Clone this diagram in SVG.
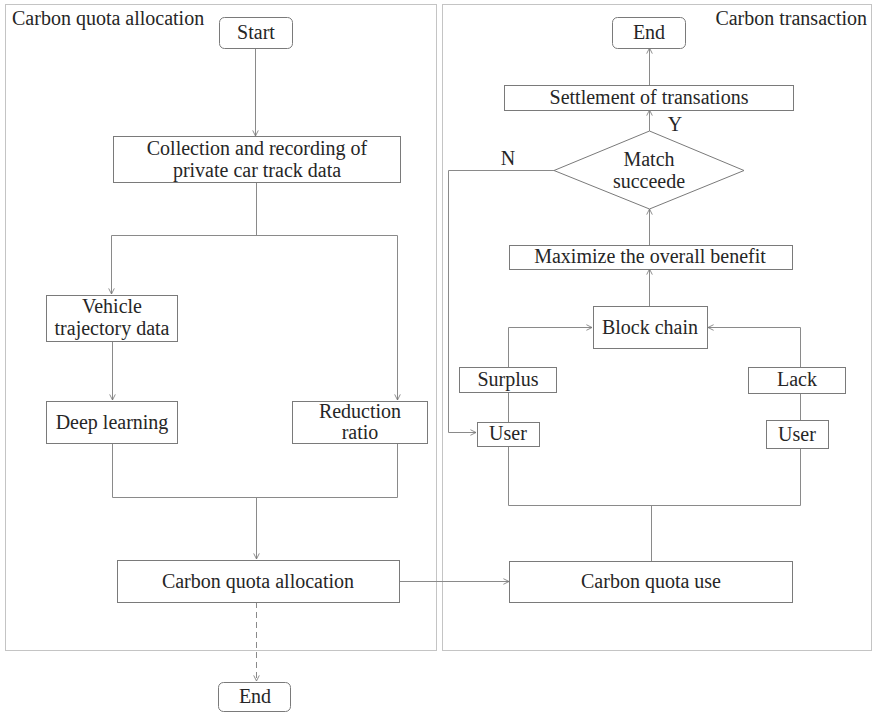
<svg xmlns="http://www.w3.org/2000/svg" width="872" height="713" viewBox="0 0 872 713">
<style>
text{font-family:'Liberation Serif','DejaVu Serif',serif;font-size:20px;fill:#262626;text-anchor:middle}
.title{text-anchor:start}
.box{fill:#fff;stroke:#7a7a7a;stroke-width:1}
.panel{fill:none;stroke:#c4c4c4;stroke-width:1}
.ln{fill:none;stroke:#8a8a8a;stroke-width:1}
</style>
<defs>
<marker id="ar" viewBox="0 0 10 10" refX="9" refY="5" markerWidth="7" markerHeight="7" orient="auto" markerUnits="userSpaceOnUse">
<path d="M1,1 L9,5 L1,9" fill="none" stroke="#7a7a7a" stroke-width="1.2"/>
</marker>
</defs>
<g id="panels" font-family="'Liberation Serif', serif">
<rect class="panel" x="5.5" y="4.5" width="431" height="646"/>
<rect class="panel" x="442.5" y="4.5" width="429" height="646"/>
<text class="title" x="12" y="25">Carbon quota allocation</text>
<text x="867" y="25" style="text-anchor:end">Carbon transaction</text>
</g>
<g id="connectors">
<line class="ln" x1="255.5" y1="48" x2="255.5" y2="136" marker-end="url(#ar)"/>
<polyline class="ln" points="256.5,182 256.5,235.5"/>
<polyline class="ln" points="111.5,235.5 397.5,235.5 397.5,400" marker-end="url(#ar)"/>
<line class="ln" x1="111.5" y1="235.5" x2="111.5" y2="294" marker-end="url(#ar)"/>
<line class="ln" x1="112.5" y1="341" x2="112.5" y2="400" marker-end="url(#ar)"/>
<polyline class="ln" points="112.5,443 112.5,497.5 397.5,497.5 397.5,443"/>
<line class="ln" x1="256.5" y1="497.5" x2="256.5" y2="559" marker-end="url(#ar)"/>
<line class="ln" x1="399" y1="581.5" x2="509" y2="581.5" marker-end="url(#ar)"/>
<line class="ln" x1="256.5" y1="602" x2="256.5" y2="681" stroke-dasharray="6,4" marker-end="url(#ar)"/>
<line class="ln" x1="649.5" y1="85" x2="649.5" y2="48" marker-end="url(#ar)"/>
<line class="ln" x1="649.5" y1="131" x2="649.5" y2="110" marker-end="url(#ar)"/>
<line class="ln" x1="649.5" y1="245" x2="649.5" y2="209" marker-end="url(#ar)"/>
<line class="ln" x1="649.5" y1="306" x2="649.5" y2="269" marker-end="url(#ar)"/>
<polyline class="ln" points="554,170.5 448.5,170.5 448.5,432.5 476,432.5" marker-end="url(#ar)"/>
<polyline class="ln" points="508.5,367 508.5,327.5 592,327.5" marker-end="url(#ar)"/>
<polyline class="ln" points="800.5,367 800.5,327.5 708,327.5" marker-end="url(#ar)"/>
<line class="ln" x1="508.5" y1="392" x2="508.5" y2="422"/>
<line class="ln" x1="800.5" y1="393" x2="800.5" y2="420"/>
<polyline class="ln" points="508.5,446 508.5,505.5 800.5,505.5 800.5,448"/>
<line class="ln" x1="651.5" y1="505.5" x2="651.5" y2="561"/>
</g>
<g id="start"><rect class="box" x="219.5" y="17.5" width="73" height="31" rx="5"/><text x="256" y="39">Start</text></g>
<g id="collection"><rect class="box" x="113.5" y="136.5" width="287" height="46"/><text x="257" y="155">Collection and recording of</text><text x="257" y="177">private car track data</text></g>
<g id="vehicle"><rect class="box" x="46.5" y="295.5" width="131" height="46"/><text x="112" y="313">Vehicle</text><text x="112" y="335">trajectory data</text></g>
<g id="deep"><rect class="box" x="46.5" y="401.5" width="131" height="42"/><text x="112" y="429">Deep learning</text></g>
<g id="reduction"><rect class="box" x="292.5" y="401.5" width="135" height="42"/><text x="360" y="418">Reduction</text><text x="360" y="439">ratio</text></g>
<g id="allocation"><rect class="box" x="117.5" y="560.5" width="282" height="42"/><text x="258" y="588">Carbon quota allocation</text></g>
<g id="end1"><rect class="box" x="218.5" y="682.5" width="72" height="29" rx="5"/><text x="255" y="703">End</text></g>
<g id="end2"><rect class="box" x="612.5" y="17.5" width="73" height="31" rx="5"/><text x="649" y="39">End</text></g>
<g id="settlement"><rect class="box" x="504.5" y="85.5" width="289" height="25"/><text x="649" y="104">Settlement of transations</text></g>
<g id="match"><polygon class="box" points="649.5,131 744,170.5 649.5,209 554,170.5"/><text x="649" y="166">Match</text><text x="649" y="188">succeede</text></g>
<text x="675" y="131">Y</text>
<text x="508" y="165">N</text>
<g id="maximize"><rect class="box" x="509.5" y="245.5" width="283" height="24"/><text x="650" y="263">Maximize the overall benefit</text></g>
<g id="blockchain"><rect class="box" x="593.5" y="306.5" width="114" height="42"/><text x="650" y="334">Block chain</text></g>
<g id="surplus"><rect class="box" x="459.5" y="367.5" width="97" height="25"/><text x="508" y="386">Surplus</text></g>
<g id="lack"><rect class="box" x="748.5" y="367.5" width="97" height="26"/><text x="797" y="386">Lack</text></g>
<g id="user1"><rect class="box" x="477.5" y="422.5" width="62" height="24"/><text x="508" y="440">User</text></g>
<g id="user2"><rect class="box" x="766.5" y="420.5" width="62" height="28"/><text x="797" y="441">User</text></g>
<g id="use"><rect class="box" x="509.5" y="561.5" width="283" height="41"/><text x="651" y="588">Carbon quota use</text></g>
</svg>
